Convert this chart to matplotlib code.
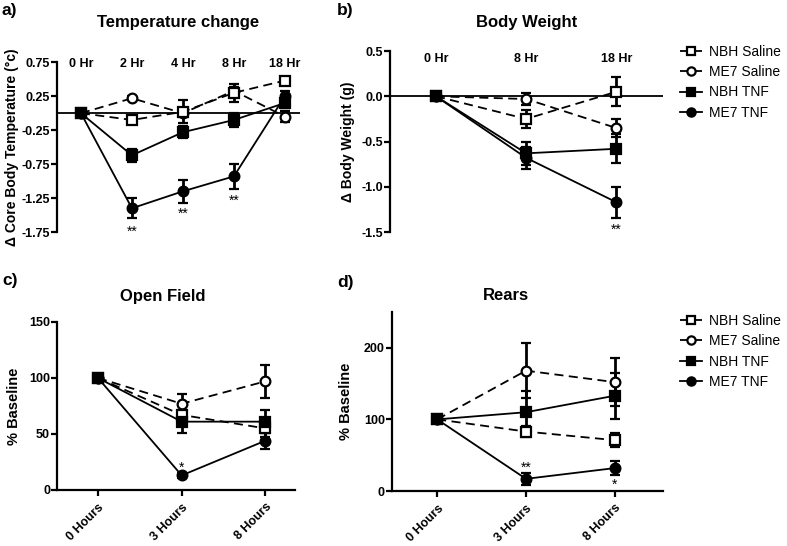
import numpy as np
import matplotlib
matplotlib.use('Agg')
import matplotlib.pyplot as plt

plt.rcParams['font.family'] = ['Liberation Sans', 'DejaVu Sans']
plt.rcParams['axes.unicode_minus'] = False

# --- Dados ---
series_names = ['NBH Saline', 'ME7 Saline', 'NBH TNF', 'ME7 TNF']

# a) Temperature change
temp_labels = ['0 Hr', '2 Hr', '4 Hr', '8 Hr', '18 Hr']
temp_nbh_sal = [0, -0.10, 0.02, 0.30, 0.48]
temp_nbh_sal_err = [0, 0.06, 0.17, 0.13, 0.04]
temp_me7_sal = [0, 0.22, 0.00, 0.33, -0.05]
temp_me7_sal_err = [0, 0.03, 0.05, 0.05, 0.08]
temp_nbh_tnf = [0, -0.62, -0.28, -0.10, 0.15]
temp_nbh_tnf_err = [0, 0.10, 0.09, 0.11, 0.08]
temp_me7_tnf = [0, -1.40, -1.15, -0.93, 0.25]
temp_me7_tnf_err = [0, 0.15, 0.17, 0.18, 0.08]

# b) Body Weight
peso_labels = ['0 Hr', '8 Hr', '18 Hr']
peso_nbh_sal = [0, -0.25, 0.05]
peso_nbh_sal_err = [0, 0.10, 0.16]
peso_me7_sal = [0, -0.03, -0.35]
peso_me7_sal_err = [0, 0.07, 0.10]
peso_nbh_tnf = [0, -0.63, -0.58]
peso_nbh_tnf_err = [0, 0.13, 0.16]
peso_me7_tnf = [0, -0.68, -1.17]
peso_me7_tnf_err = [0, 0.12, 0.17]

# c) Open Field
of_labels = ['0 Hours', '3 Hours', '8 Hours']
of_nbh_sal = [100, 67, 55]
of_nbh_sal_err = [0, 8, 8]
of_me7_sal = [100, 77, 97]
of_me7_sal_err = [0, 9, 15]
of_nbh_tnf = [100, 61, 61]
of_nbh_tnf_err = [0, 10, 10]
of_me7_tnf = [100, 13, 44]
of_me7_tnf_err = [0, 2, 7]

# d) Rears
rears_labels = ['0 Hours', '3 Hours', '8 Hours']
rears_nbh_sal = [100, 83, 71]
rears_nbh_sal_err = [0, 8, 10]
rears_me7_sal = [100, 168, 152]
rears_me7_sal_err = [0, 38, 34]
rears_nbh_tnf = [100, 110, 133]
rears_nbh_tnf_err = [0, 30, 32]
rears_me7_tnf = [100, 17, 32]
rears_me7_tnf_err = [0, 8, 10]

# estilos: (marker, facecolor, linestyle)
estilos = {
    'NBH Saline': ('s', 'white', (0, (5, 3))),
    'ME7 Saline': ('o', 'white', (0, (5, 3))),
    'NBH TNF': ('s', 'black', '-'),
    'ME7 TNF': ('o', 'black', '-'),
}


def desenha(ax, valores, erros):
    handles = {}
    # ordem de desenho: quadrado cheio por cima no ponto 0
    for nome in ['ME7 TNF', 'ME7 Saline', 'NBH Saline', 'NBH TNF']:
        y = valores[nome]
        e = erros[nome]
        x = np.arange(len(y))
        m, fc, ls = estilos[nome]
        ms = 7.5 if m == 's' else 7
        l = ax.errorbar(x, y, yerr=e, color='black', marker=m, markersize=ms,
                        markerfacecolor=fc, markeredgewidth=1.6, linestyle=ls,
                        linewidth=1.3, elinewidth=2, capsize=3.5, capthick=2,
                        zorder=3)
        handles[nome] = l[0]  # so a linha, sem barras de erro
    return [handles[n] for n in series_names]


fig = plt.figure(figsize=(7.87, 5.46), dpi=100)

# --- a) ---
ax1 = fig.add_axes([0.0724, 0.575, 0.309, 0.311])
h = desenha(ax1,
            {'NBH Saline': temp_nbh_sal, 'ME7 Saline': temp_me7_sal,
             'NBH TNF': temp_nbh_tnf, 'ME7 TNF': temp_me7_tnf},
            {'NBH Saline': temp_nbh_sal_err, 'ME7 Saline': temp_me7_sal_err,
             'NBH TNF': temp_nbh_tnf_err, 'ME7 TNF': temp_me7_tnf_err})
ax1.axhline(0, color='black', linewidth=1.3, zorder=2)
ax1.set_xlim(-0.47, 4.3)
ax1.set_ylim(-1.75, 0.75)
ax1.set_yticks([0.75, 0.25, -0.25, -0.75, -1.25, -1.75])
ax1.set_yticklabels(['0.75', '0.25', '-0.25', '-0.75', '-1.25', '-1.75'])
for i, lab in enumerate(temp_labels):
    ax1.text(i, 0.99, lab, transform=ax1.get_xaxis_transform(), ha='center',
             va='center', fontsize=9, fontweight='bold')
for i, yy in [(1, -1.74), (2, -1.48), (3, -1.29)]:
    ax1.text(i, yy, '**', ha='center', va='center', fontsize=10)
ax1.set_ylabel('\u0394 Core Body Temperature (\u00b0c)', fontsize=10,
               fontweight='bold', labelpad=2)

# --- b) ---
ax2 = fig.add_axes([0.4956, 0.575, 0.347, 0.3315])
desenha(ax2,
        {'NBH Saline': peso_nbh_sal, 'ME7 Saline': peso_me7_sal,
         'NBH TNF': peso_nbh_tnf, 'ME7 TNF': peso_me7_tnf},
        {'NBH Saline': peso_nbh_sal_err, 'ME7 Saline': peso_me7_sal_err,
         'NBH TNF': peso_nbh_tnf_err, 'ME7 TNF': peso_me7_tnf_err})
ax2.axhline(0, color='black', linewidth=1.3, zorder=2)
ax2.set_xlim(-0.51, 2.52)
ax2.set_ylim(-1.5, 0.5)
ax2.set_yticks([0.5, 0.0, -0.5, -1.0, -1.5])
ax2.set_yticklabels(['0.5', '0.0', '-0.5', '-1.0', '-1.5'])
for i, lab in enumerate(peso_labels):
    ax2.text(i, 0.955, lab, transform=ax2.get_xaxis_transform(), ha='center',
             va='center', fontsize=9, fontweight='bold')
ax2.text(2, -1.48, '**', ha='center', va='center', fontsize=10)
ax2.set_ylabel('\u0394 Body Weight (g)', fontsize=10, fontweight='bold',
               labelpad=5)

# --- c) ---
ax3 = fig.add_axes([0.0724, 0.1026, 0.302, 0.3077])
desenha(ax3,
        {'NBH Saline': of_nbh_sal, 'ME7 Saline': of_me7_sal,
         'NBH TNF': of_nbh_tnf, 'ME7 TNF': of_me7_tnf},
        {'NBH Saline': of_nbh_sal_err, 'ME7 Saline': of_me7_sal_err,
         'NBH TNF': of_nbh_tnf_err, 'ME7 TNF': of_me7_tnf_err})
ax3.set_xlim(-0.49, 2.35)
ax3.set_ylim(0, 150)
ax3.set_yticks([0, 50, 100, 150])
ax3.set_xticks(range(len(of_labels)))
ax3.set_xticklabels(of_labels, rotation=45, ha='right', rotation_mode='anchor')
ax3.text(1, 20, '*', ha='center', va='center', fontsize=10)
ax3.set_ylabel('% Baseline', fontsize=10.5, fontweight='bold', labelpad=6)

# --- d) ---
ax4 = fig.add_axes([0.498, 0.1007, 0.344, 0.328])
desenha(ax4,
        {'NBH Saline': rears_nbh_sal, 'ME7 Saline': rears_me7_sal,
         'NBH TNF': rears_nbh_tnf, 'ME7 TNF': rears_me7_tnf},
        {'NBH Saline': rears_nbh_sal_err, 'ME7 Saline': rears_me7_sal_err,
         'NBH TNF': rears_nbh_tnf_err, 'ME7 TNF': rears_me7_tnf_err})
ax4.set_xlim(-0.51, 2.54)
ax4.set_ylim(0, 250)
ax4.set_yticks([0, 100, 200])
ax4.set_xticks(range(len(rears_labels)))
ax4.set_xticklabels(rears_labels, rotation=45, ha='right', rotation_mode='anchor')
ax4.text(1, 33, '**', ha='center', va='center', fontsize=10)
ax4.text(2, 9, '*', ha='center', va='center', fontsize=10)
ax4.set_ylabel('% Baseline', fontsize=10.5, fontweight='bold', labelpad=8)

# --- estilo comum ---
for ax in [ax1, ax2, ax3, ax4]:
    ax.spines['top'].set_visible(False)
    ax.spines['right'].set_visible(False)
    ax.spines['left'].set_linewidth(1.6)
    ax.spines['bottom'].set_linewidth(1.6)
    ax.tick_params(axis='y', direction='out', length=4, width=1.6, labelsize=9, pad=1)
    ax.tick_params(axis='x', direction='out', length=4, width=1.6, labelsize=9, pad=4)
    for t in ax.get_yticklabels() + ax.get_xticklabels():
        t.set_fontweight('bold')

for ax in [ax1, ax2]:
    ax.spines['bottom'].set_visible(False)
    ax.set_xticks([])

# --- titulos e letras ---
fig.text(178 / 787, 1 - 23 / 546, 'Temperature change', ha='center', va='center',
         fontsize=12, fontweight='bold')
fig.text(527 / 787, 1 - 23 / 546, 'Body Weight', ha='center', va='center',
         fontsize=12, fontweight='bold')
fig.text(163 / 787, 1 - 296 / 546, 'Open Field', ha='center', va='center',
         fontsize=12, fontweight='bold')
fig.text(506 / 787, 1 - 296 / 546, 'Rears', ha='center', va='center',
         fontsize=12, fontweight='bold')
for lab, x, y in [('a)', 2, 10), ('b)', 337, 10), ('c)', 2, 280), ('d)', 337, 283)]:
    fig.text(x / 787, 1 - y / 546, lab, ha='left', va='center', fontsize=12.5,
             fontweight='bold')

# --- legendas ---
for ytop in [45, 314]:
    fig.legend(h, series_names, loc='upper left',
               bbox_to_anchor=(680 / 787, 1 - ytop / 546), frameon=False,
               fontsize=10, handlelength=1.6, handletextpad=0.5,
               labelspacing=0.45, borderpad=0, borderaxespad=0,
               markerscale=0.85)

fig.savefig('out.png', dpi=100)
